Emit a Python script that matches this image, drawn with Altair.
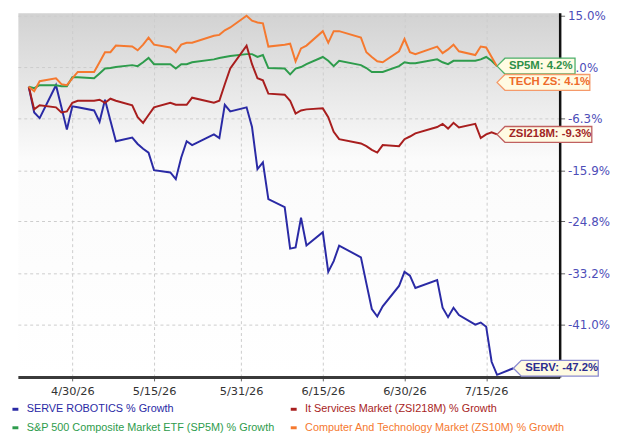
import altair as alt
import pandas as pd

# trading days shown on the chart
DATES = [
    "2026-04-22", "2026-04-23", "2026-04-24",
    "2026-04-27", "2026-04-28", "2026-04-29", "2026-04-30", "2026-05-01",
    "2026-05-04", "2026-05-05", "2026-05-06", "2026-05-07", "2026-05-08",
    "2026-05-11", "2026-05-12", "2026-05-13", "2026-05-14", "2026-05-15",
    "2026-05-18", "2026-05-19", "2026-05-20", "2026-05-21", "2026-05-22",
    "2026-05-26", "2026-05-27", "2026-05-28", "2026-05-29",
    "2026-06-01", "2026-06-02", "2026-06-03", "2026-06-04", "2026-06-05",
    "2026-06-08", "2026-06-09", "2026-06-10", "2026-06-11", "2026-06-12",
    "2026-06-15", "2026-06-16", "2026-06-17", "2026-06-18",
    "2026-06-22", "2026-06-23", "2026-06-24", "2026-06-25", "2026-06-26",
    "2026-06-29", "2026-06-30", "2026-07-01", "2026-07-02",
    "2026-07-06", "2026-07-07", "2026-07-08", "2026-07-09", "2026-07-10",
    "2026-07-13", "2026-07-14", "2026-07-15", "2026-07-16", "2026-07-17",
    "2026-07-20",
]

# % growth per series
SERV = [
    0.0, -5.1, -6.2,
    0.3, -4.1, -8.4, -3.9, -4.1,
    -4.7, -6.9, -2.6, -6.7, -10.6,
    -9.9, -11.1, -12.0, -12.7, -15.9,
    -16.3, -17.5, -13.6, -10.6, -11.3,
    -9.3, -10.0, -3.6, -4.9,
    -4.1, -7.9, -15.7, -14.5, -21.0,
    -22.4, -29.3, -29.1, -24.2, -28.8,
    -26.6, -33.0, -31.3, -28.8,
    -30.7, -34.8, -38.7, -39.8, -38.3,
    -35.2, -33.0, -33.6, -35.5,
    -34.3, -38.5, -39.9, -38.5, -39.6,
    -41.0, -40.7, -41.3, -46.3, -48.1,
    -47.2,
]
ZSI218M = [
    0.0, -4.5, -3.7,
    -4.1, -5.1, -4.9, -3.2, -2.8,
    -2.8, -2.6, -3.2, -2.4, -2.8,
    -3.7, -6.0, -7.1, -5.6, -4.1,
    -3.2, -3.6, -3.6, -3.6, -2.2,
    -3.2, -2.8, 0.5, 3.7,
    8.5, 4.6, 1.7, 1.3, -1.4,
    -1.6, -2.8, -5.3, -4.7, -4.5,
    -4.3, -6.0, -8.8, -10.2,
    -11.0, -11.5, -12.2, -12.7, -11.3,
    -11.5, -10.2, -9.7, -9.1,
    -7.9, -7.3, -8.2, -7.1, -8.0,
    -7.3, -10.0, -9.3, -8.9, -9.3,
]
SP5M = [
    0.0, -0.3, 0.3,
    0.3, 0.1, 0.1, 1.9, 1.9,
    1.7, 2.7, 3.7, 3.8, 4.0,
    4.4, 4.2, 5.0, 5.9, 4.6,
    4.6, 3.7, 4.6, 4.6, 5.0,
    5.6, 5.9, 6.1, 6.3,
    6.7, 6.7, 6.1, 6.5, 3.8,
    3.7, 2.5, 3.7, 4.0, 4.6,
    6.1, 5.3, 4.2, 5.3,
    4.4, 3.8, 3.0, 3.0, 3.0,
    4.2, 5.0, 4.8, 4.8,
    5.6, 5.0, 4.6, 5.3, 5.3,
    5.3, 5.6, 6.1, 5.3, 4.2,
]
ZS10M = [
    0.0, -0.9, 1.1,
    1.7, 0.5, 0.3, 1.7, 3.0,
    3.0, 5.0, 7.1, 7.1, 8.5,
    8.3, 7.5, 8.7, 10.2, 8.7,
    8.1, 7.1, 8.7, 9.1, 9.1,
    10.6, 10.8, 11.8, 12.4,
    15.0, 13.9, 13.5, 13.3, 8.3,
    8.7, 8.9, 5.2, 7.9, 8.5,
    11.6, 9.1, 11.6, 11.6,
    10.2, 7.1, 6.1, 5.2, 5.0,
    7.3, 9.9, 7.1, 6.7,
    8.3, 6.9, 7.7, 8.7, 7.3,
    6.5, 8.3, 8.1, 6.1, 4.1,
]

# legend order (filled column by column)
NAMES = [
    "SERVE ROBOTICS % Growth",
    "S&P 500 Composite Market ETF (SP5M) % Growth",
    "It Services Market (ZSI218M) % Growth",
    "Computer And Technology Market (ZS10M) % Growth",
]
TAGS = ["SERV", "SP5M", "ZSI218M", "TECH ZS"]
LINE_COLORS = ["#2a2aa5", "#2e9c4c", "#a81e1e", "#f5792f"]
BOX_COLORS = ["#8a8ad0", "#4caf6a", "#c06060", "#f59a6a"]
TEXT_COLORS = ["#2c2c8f", "#2e8f48", "#a02525", "#ee6a2a"]
Y_TICKS = [15.0, 4.0, -6.3, -15.9, -24.8, -33.2, -41.0]
X_TICKS = [(4, 30), (5, 15), (5, 31), (6, 15), (6, 30), (7, 15)]

BASE = 150  # axis is log-spaced on (growth + 150)
BOX_W = [21.5, 19.75, 24, 23.5]  # callout length in 4px units
PATHS = [f"M0,0L2,-2L{w},-2L{w},2L2,2Z" for w in BOX_W]
PCT = "(({v}) < 0 ? '-' : '') + format(abs({v}), '.1f') + '%'"

rows = []
for name, tag, vals in zip(NAMES, TAGS, [SERV, SP5M, ZSI218M, ZS10M]):
    for d, v in zip(DATES, vals):
        rows.append({"date": d, "value": v, "series": name, "tag": tag})
df = pd.DataFrame(rows)
df["date"] = pd.to_datetime(df["date"])
ends = df.groupby("series", sort=False).tail(1)

x = alt.X(
    "date:T",
    scale=alt.Scale(domain=[alt.DateTime(year=2026, month=4, date=20),
                            alt.DateTime(year=2026, month=7, date=28, hours=12)]),
    axis=alt.Axis(
        title=None, orient="bottom", format="%-m/%d/%y",
        values=[alt.DateTime(year=2026, month=m, date=d) for m, d in X_TICKS],
        labelFont="DejaVu Sans", labelFontSize=11.5, labelColor="#333333",
        domainColor="#3a3a3a", domainWidth=3, tickColor="#666666", tickSize=4,
        labelPadding=5, grid=True, gridDash=[3, 3], gridColor="#cccccc",
    ),
)
y = alt.Y(
    "lv:Q",
    scale=alt.Scale(type="log", domain=[101.61, 165.64], nice=False),
    axis=alt.Axis(
        title=None, orient="right", values=[t + BASE for t in Y_TICKS],
        labelExpr=PCT.format(v=f"datum.value - {BASE}"),
        labelFont="DejaVu Sans", labelFontSize=12, labelColor="#4d4db8",
        domainColor="#111111", domainWidth=2.5, tickColor="#666666", tickSize=5,
        labelPadding=3, grid=True, gridDash=[3, 3], gridColor="#cccccc",
    ),
)

lines = alt.Chart(df).transform_calculate(lv=f"datum.value + {BASE}").mark_line(strokeWidth=2).encode(
    x=x, y=y,
    color=alt.Color(
        "series:N", scale=alt.Scale(domain=NAMES, range=LINE_COLORS),
        legend=alt.Legend(
            title=None, orient="none", legendX=-8, legendY=396, columns=2,
            symbolType="stroke", symbolSize=36, symbolStrokeWidth=3,
            labelFont="Liberation Sans", labelFontSize=11, labelLimit=400,
            labelColor=alt.ExprRef(expr="scale('color', datum.value)"),
            columnPadding=9, rowPadding=6, labelOffset=6,
        ),
    ),
)


def callouts(data, shift):
    b = alt.Chart(data).transform_calculate(
        lv=f"datum.value + {BASE}",
        label="datum.tag + ': ' + " + PCT.format(v="datum.value"),
    )
    box = b.mark_point(filled=True, fill="#fffbe3", size=64, opacity=1, strokeWidth=1.3, yOffset=shift).encode(
        x=x, y=y,
        shape=alt.Shape("tag:N", scale=alt.Scale(domain=TAGS, range=PATHS), legend=None),
        stroke=alt.Stroke("tag:N", scale=alt.Scale(domain=TAGS, range=BOX_COLORS), legend=None),
    )
    txt = b.mark_text(align="left", baseline="middle", dx=12, dy=shift, font="Liberation Sans",
                      fontWeight="bold", fontSize=11.5).encode(
        x=x, y=y, text="label:N",
        fill=alt.Fill("tag:N", scale=alt.Scale(domain=TAGS, range=TEXT_COLORS), legend=None),
    )
    return box + txt


tech = ends[ends["tag"] == "TECH ZS"]
others = ends[ends["tag"] != "TECH ZS"]

bg = ("{gradient: 'linear', x1: 0, y1: 0, x2: 0, y2: 1, stops: ["
      "{offset: 0, color: '#d2d2d2'}, {offset: 0.4, color: '#fbfbfb'}, {offset: 1, color: '#ffffff'}]}")

chart = alt.layer(lines, callouts(others, 0), callouts(tech, 16)).properties(
    width=549, height=369,
    autosize=alt.AutoSizeParams(type="none"),
    padding={"left": 10, "top": 2, "right": 52, "bottom": 57},
).configure_view(stroke="transparent", fill=alt.ExprRef(expr=bg))

chart.save("out.html", embed_options={"renderer": "svg", "actions": False})
